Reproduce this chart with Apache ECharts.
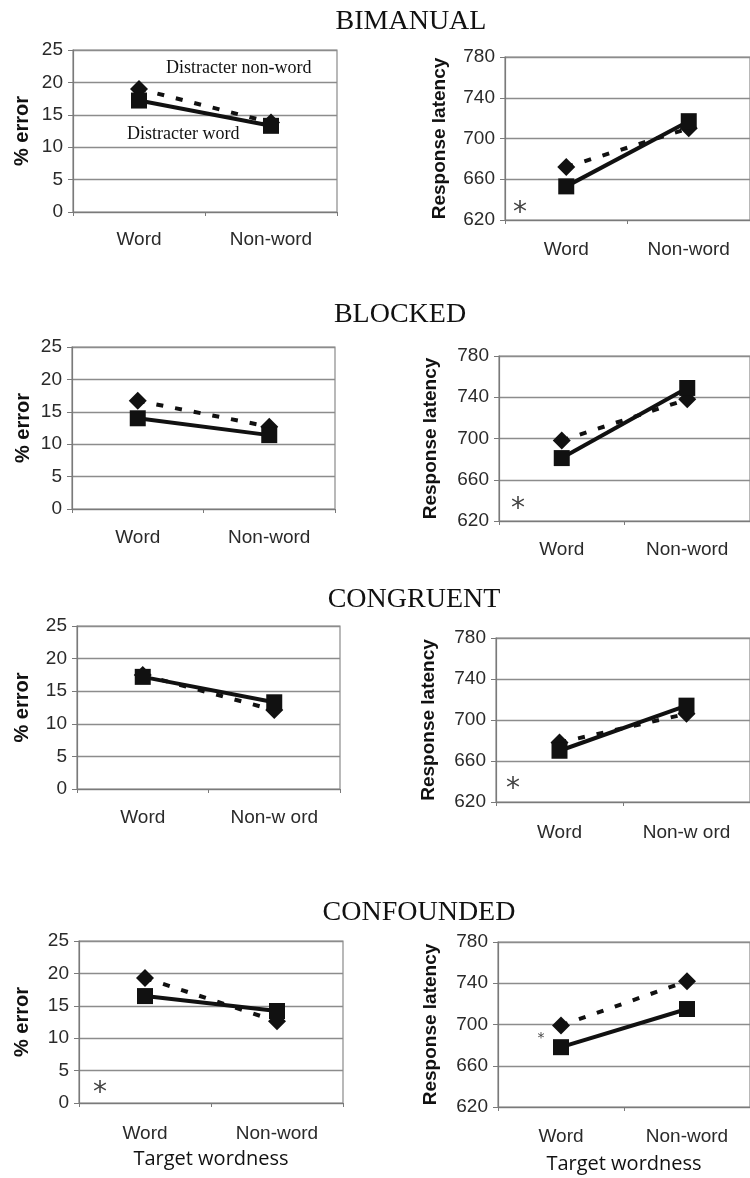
<!DOCTYPE html>
<html><head><meta charset="utf-8">
<script src="https://cdn.jsdelivr.net/npm/echarts@6/dist/echarts.min.js"></script>
<style>html,body{margin:0;padding:0;background:#fff}#c{width:750px;height:1178px}</style>
</head><body><div id="c"></div>
<script>
// ---- data ----
const catsStd = ['Word', 'Non-word'];
const catsCong = ['Word', 'Non-w ord'];
const errTicks = [0, 5, 10, 15, 20, 25];
const latTicks = [620, 660, 700, 740, 780];
const panelTitles = ['BIMANUAL', 'BLOCKED', 'CONGRUENT', 'CONFOUNDED'];
const seriesNames = ['Distracter word', 'Distracter non-word'];

// % error: [Word, Non-word]
const errBimWord = [17.2, 13.3], errBimNon = [19.0, 13.8];
const errBlkWord = [14.0, 11.4], errBlkNon = [16.7, 12.7];
const errCngWord = [17.2, 13.3], errCngNon = [17.5, 12.1];
const errCnfWord = [16.5, 14.2], errCnfNon = [19.3, 12.6];
// Response latency: [Word, Non-word]
const latBimWord = [653, 717], latBimNon = [672, 710];
const latBlkWord = [681, 749], latBlkNon = [698, 738];
const latCngWord = [670, 714], latCngNon = [678, 706];
const latCnfWord = [678, 715], latCnfNon = [699, 742];

// ---- layout ----
const panels = [
  {g:{left:73,top:50,width:264,height:162}, cats:catsStd, kind:'err', w:errBimWord, n:errBimNon, nameGap:41, lm:19},
  {g:{left:505,top:57,width:256,height:163}, cats:catsStd, kind:'lat', w:latBimWord, n:latBimNon, nameGap:56, lm:21},
  {g:{left:72,top:347,width:263,height:162}, cats:catsStd, kind:'err', w:errBlkWord, n:errBlkNon, nameGap:39, lm:20},
  {g:{left:499,top:356,width:256,height:165}, cats:catsStd, kind:'lat', w:latBlkWord, n:latBlkNon, nameGap:59, lm:20},
  {g:{left:77,top:626,width:263,height:163}, cats:catsCong, kind:'err', w:errCngWord, n:errCngNon, nameGap:45, lm:20},
  {g:{left:496,top:638,width:258,height:164}, cats:catsCong, kind:'lat', w:latCngWord, n:latCngNon, nameGap:58, lm:22},
  {g:{left:79,top:941,width:264,height:162}, cats:catsStd, kind:'err', w:errCnfWord, n:errCnfNon, nameGap:47, lm:22, xname:'Target wordness', xgap:46},
  {g:{left:498,top:942,width:257,height:165}, cats:catsStd, kind:'lat', w:latCnfWord, n:latCnfNon, nameGap:58, lm:21, xname:'Target wordness', xgap:47}
];

const axisCol = '#7a7a7a';
const sans = 'Liberation Sans';
const grids = [], xAxes = [], yAxes = [], series = [];
panels.forEach((p, i) => {
  grids.push(Object.assign({show:true, borderColor:'#8a8a8a', borderWidth:1.2, backgroundColor:'#fff'}, p.g));
  xAxes.push({
    type:'category', gridIndex:i, data:p.cats, boundaryGap:true,
    axisLine:{lineStyle:{color:axisCol, width:1.2}},
    axisTick:{show:true, length:4, lineStyle:{color:axisCol}},
    axisLabel:{fontFamily:sans, fontSize:19, color:'#2a2a2a', margin:p.lm - 1},
    splitLine:{show:false},
    name:p.xname || '', nameLocation:'middle', nameGap:p.xgap || 0,
    nameTextStyle:{fontFamily:'Open Sans', fontSize:20, color:'#111'}
  });
  const ticks = p.kind === 'err' ? errTicks : latTicks;
  yAxes.push({
    type:'value', gridIndex:i, min:ticks[0], max:ticks[ticks.length-1], interval:ticks[1]-ticks[0],
    axisLine:{show:true, lineStyle:{color:axisCol, width:1.2}},
    axisTick:{show:true, length:5, lineStyle:{color:axisCol}},
    axisLabel:{fontFamily:sans, fontSize:19, color:'#2a2a2a', margin:10},
    splitLine:{show:true, lineStyle:{color:'#8c8c8c', width:1.3}},
    name: p.kind === 'err' ? '% error' : 'Response latency',
    nameLocation:'middle', nameGap:p.nameGap, nameRotate:90,
    nameTextStyle:{fontFamily:sans, fontSize: p.kind === 'err' ? 20 : 19, fontWeight:'bold', color:'#111'}
  });
  series.push({
    type:'line', name:seriesNames[1], xAxisIndex:i, yAxisIndex:i, data:p.n,
    symbol:'diamond', symbolSize:[18,18], showSymbol:true,
    lineStyle:{color:'#111', width:4, type:[7,12]},
    itemStyle:{color:'#111', borderWidth:0}, z:2, animation:false
  });
  series.push({
    type:'line', name:seriesNames[0], xAxisIndex:i, yAxisIndex:i, data:p.w,
    symbol:'rect', symbolSize:[16,16], showSymbol:true,
    lineStyle:{color:'#111', width:4, type:'solid'},
    itemStyle:{color:'#111', borderWidth:0}, z:3, animation:false
  });
});

const titleYs = [22, 315, 600, 913];
const titleXs = [411, 400, 414, 419];
const graphics = panelTitles.map((t, k) => ({
  type:'text', x:titleXs[k], y:titleYs[k],
  style:{text:t, font:'28px "Liberation Serif"', fill:'#111', align:'center', verticalAlign:'middle'}
}));
// annotations
graphics.push({type:'text', x:166, y:68, style:{text:seriesNames[1], font:'18px "Liberation Serif"', fill:'#111', align:'left', verticalAlign:'middle'}});
graphics.push({type:'text', x:127, y:134, style:{text:seriesNames[0], font:'18px "Liberation Serif"', fill:'#111', align:'left', verticalAlign:'middle'}});
const stars = [[520,214,28],[518,510,28],[513,790,28],[100,1094,28],[541,1038,14]];
stars.forEach(s => graphics.push({type:'text', x:s[0], y:s[1], z:10,
  style:{text:'*', font: s[2] + 'px "DejaVu Sans"', fill:'#444', align:'center', verticalAlign:'middle'}}));

const chart = echarts.init(document.getElementById('c'), null, {renderer:'canvas'});
chart.setOption({
  animation:false, backgroundColor:'#fff',
  grid:grids, xAxis:xAxes, yAxis:yAxes, series:series, graphic:graphics
});
</script></body></html>
